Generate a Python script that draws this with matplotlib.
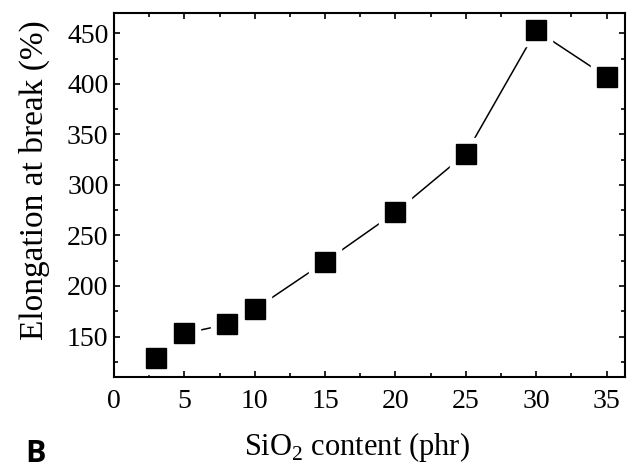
import matplotlib
matplotlib.use("Agg")
import matplotlib.pyplot as plt
from matplotlib.ticker import MultipleLocator

# SiO2 content (phr) vs elongation at break (%)
sio2_content = [3, 5, 8, 10, 15, 20, 25, 30, 35]
elongation = [129, 153, 162, 177, 224, 273, 331, 453, 407]

plt.rcParams['font.family'] = ['Liberation Serif', 'DejaVu Serif']
plt.rcParams['mathtext.fontset'] = 'custom'
plt.rcParams['mathtext.rm'] = 'Liberation Serif'

fig = plt.figure(figsize=(6.37, 4.70), dpi=100, facecolor='white')
ax = fig.add_axes([0.179, 0.198, 0.802, 0.774])

ax.plot(sio2_content, elongation, color='black', linewidth=1.1, zorder=1)
# white halo so the line stops short of each marker
ax.plot(sio2_content, elongation, linestyle='none', marker='s', markersize=23,
        markerfacecolor='white', markeredgecolor='white', zorder=2)
ax.plot(sio2_content, elongation, linestyle='none', marker='s', markersize=14.4,
        markerfacecolor='black', markeredgecolor='black', zorder=3)

ax.set_xlim(0, 36.3)
ax.set_ylim(110, 470)
ax.xaxis.set_major_locator(MultipleLocator(5))
ax.xaxis.set_minor_locator(MultipleLocator(2.5))
ax.yaxis.set_major_locator(MultipleLocator(50))
ax.yaxis.set_minor_locator(MultipleLocator(25))
ax.set_yticks([150, 200, 250, 300, 350, 400, 450])

ax.tick_params(which='both', direction='in', top=True, right=True,
               width=1.2, labelsize=20)
ax.tick_params(axis='x', pad=9)
ax.tick_params(axis='y', pad=4)
ax.tick_params(which='major', length=4)
ax.tick_params(which='minor', length=3)
for s in ax.spines.values():
    s.set_linewidth(1.5)

ax.set_xlabel('SiO$_2$ content (phr)', fontsize=22)
ax.set_ylabel('Elongation at break (%)', fontsize=24)
ax.xaxis.set_label_coords(0.476, -0.145)
ax.yaxis.set_label_coords(-0.125, 0.541)

fig.text(0.039, 0.017, 'B', fontsize=22, fontweight='bold',
         family=['Open Sans', 'DejaVu Sans'])

fig.savefig('out.png', dpi=100, facecolor='white')
